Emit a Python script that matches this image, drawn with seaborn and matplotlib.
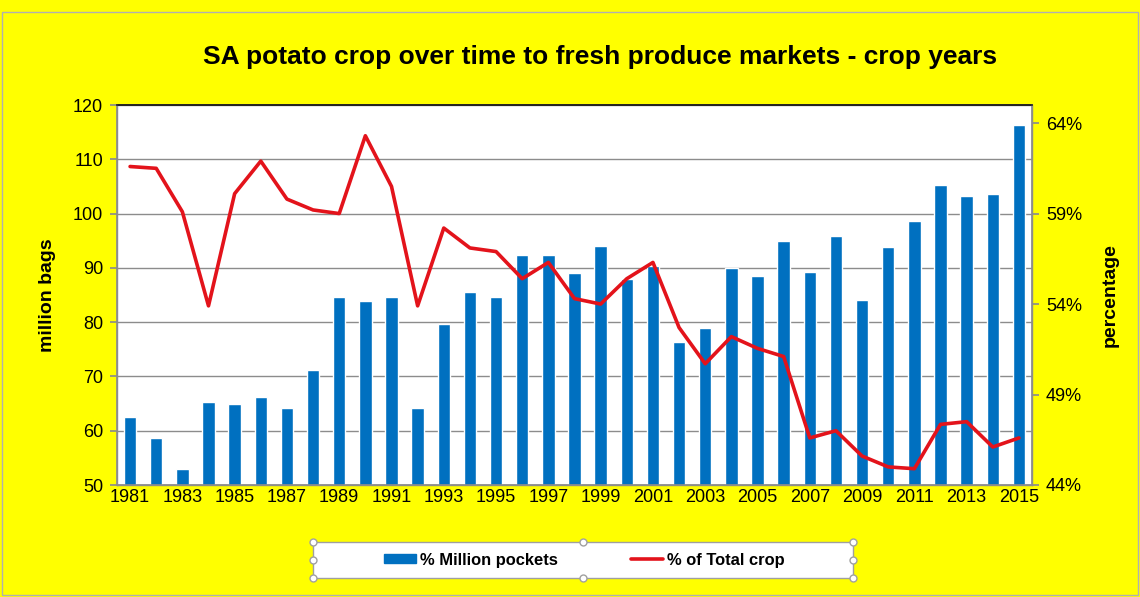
import numpy as np
import pandas as pd
import matplotlib
matplotlib.use("Agg")
import matplotlib.pyplot as plt
import seaborn as sns
from matplotlib.patches import Patch, Rectangle
from matplotlib.lines import Line2D
from matplotlib.ticker import FixedLocator, FuncFormatter

years = list(range(1981, 2016))
million_bags = [62.5, 58.6, 52.9, 65.2, 65.0, 66.2, 64.1, 71.2, 84.6, 83.9,
                84.6, 64.1, 79.7, 85.5, 84.6, 92.4, 92.4, 89.0, 94.0, 88.0,
                90.4, 76.3, 79.0, 90.0, 88.5, 94.9, 89.2, 95.9, 84.1, 93.8,
                98.6, 105.2, 103.2, 103.6, 116.4]
pct_total = [61.6, 61.5, 59.1, 53.9, 60.1, 61.9, 59.8, 59.2, 59.0, 63.3,
             60.5, 53.9, 58.2, 57.1, 56.9, 55.4, 56.3, 54.3, 54.0, 55.4,
             56.3, 52.7, 50.7, 52.2, 51.55, 51.1, 46.6, 47.0, 45.6, 45.0,
             44.9, 47.35, 47.5, 46.1, 46.6]
left_ticks = [50, 60, 70, 80, 90, 100, 110, 120]
right_ticks = [44, 49, 54, 59, 64]

title = "SA potato crop over time to fresh produce markets - crop years"
bar_label = "% Million pockets"
line_label = "% of Total crop"

df = pd.DataFrame({"year": [str(y) for y in years], "pos": np.arange(len(years)),
                   "bags": million_bags, "pct": pct_total})

sns.set_theme(style="white")
plt.rcParams["font.family"] = ["Liberation Sans", "DejaVu Sans"]
plt.rcParams["text.color"] = "black"
plt.rcParams["axes.labelcolor"] = "black"
plt.rcParams["xtick.color"] = "black"
plt.rcParams["ytick.color"] = "black"

BLUE = "#0070C0"
RED = "#E3131B"
YELLOW = "#FFFF00"
GRID = "#8C8C8C"

fig = plt.figure(figsize=(11.4, 5.97), dpi=100, facecolor=YELLOW)
ax = fig.add_axes([117/1140, 1 - 485/597, (1032-117)/1140, (485-105)/597])
ax.set_facecolor("white")

sns.barplot(data=df, x="year", y="bags", color=BLUE, width=0.47,
            saturation=1, ax=ax, zorder=3)
ax.set_xlim(-0.5, len(years) - 0.5)
ax.set_ylim(50, 120)
ax.set_yticks(left_ticks)
ax.yaxis.grid(True, color=GRID, linewidth=1.0, zorder=0)
ax.set_axisbelow(True)

ax.xaxis.set_major_locator(FixedLocator(list(range(0, len(years), 2))))
ax.set_xticklabels([str(y) for y in years[::2]], fontsize=13)
ax.xaxis.set_minor_locator(FixedLocator(list(np.arange(-0.5, len(years), 1.0))))
ax.tick_params(axis="x", which="major", length=0, pad=3, labelcolor="black")
ax.tick_params(axis="x", which="minor", length=5, color=GRID, direction="out")
ax.tick_params(axis="y", length=5, color=GRID, direction="out", labelsize=13,
               pad=5, labelcolor="black")
ax.set_xlabel("")
ax.set_ylabel("million bags", fontsize=14, fontweight="bold", labelpad=12,
              color="black")

for side in ["left", "bottom", "right"]:
    ax.spines[side].set_color(GRID)
    ax.spines[side].set_linewidth(1.0)
ax.spines["top"].set_color("#222222")
ax.spines["top"].set_linewidth(1.2)

ax2 = ax.twinx()
sns.lineplot(data=df, x="pos", y="pct", color=RED, linewidth=2.6, ax=ax2, zorder=4)
ax2.set_ylim(44, 65)
ax2.set_yticks(right_ticks)
ax2.yaxis.set_major_formatter(FuncFormatter(lambda v, p: f"{v:.0f}%"))
ax2.tick_params(axis="y", length=5, color=GRID, direction="out", labelsize=13,
                pad=5, labelcolor="black")
ax2.set_ylabel("percentage", fontsize=14, fontweight="bold", labelpad=14,
               color="black")
ax2.set_xlabel("")
ax2.set_xlim(-0.5, len(years) - 0.5)
ax2.grid(False)
for side in ["left", "bottom", "right"]:
    ax2.spines[side].set_color(GRID)
ax2.spines["top"].set_color("#222222")
ax2.spines["top"].set_linewidth(1.2)

fig.text(600/1140, 1 - 57/597, title, ha="center", va="center",
         fontsize=19, fontweight="bold", color="black")

W, H = 1140, 597
fig.patches.append(Rectangle((313/W, 1 - 578/H), 540/W, 36/H,
                             transform=fig.transFigure, facecolor="white",
                             edgecolor="#A0A0A0", linewidth=1.0, zorder=1))
handles = [Patch(facecolor=BLUE, edgecolor=BLUE),
           Line2D([0], [0], color=RED, linewidth=2.6)]
leg = fig.legend(handles, [bar_label, line_label], loc="center",
                 bbox_to_anchor=(584.5/W, 1 - 560/H), ncol=2,
                 frameon=False,
                 prop={"weight": "bold", "size": 11.9},
                 handlelength=1.95, handleheight=0.42, handletextpad=0.25,
                 columnspacing=4.4, borderpad=0.3, borderaxespad=0)
leg.set_zorder(3)

for (hx, hy) in [(313, 542), (583, 542), (853, 542), (313, 560), (853, 560),
                 (313, 578), (583, 578), (853, 578)]:
    fig.add_artist(Line2D([hx/W], [1 - hy/H], marker="o", markersize=5,
                          markerfacecolor="white", markeredgecolor="#A0A0A0",
                          markeredgewidth=1.0, linestyle="none",
                          transform=fig.transFigure, zorder=5))

fig.patches.append(Rectangle((2/W, 2/H), 1 - 4/W, 1 - 14/H,
                             transform=fig.transFigure, fill=False,
                             edgecolor="#B0B0B0", linewidth=1.0))

fig.savefig("out.png", dpi=100, facecolor=YELLOW)
